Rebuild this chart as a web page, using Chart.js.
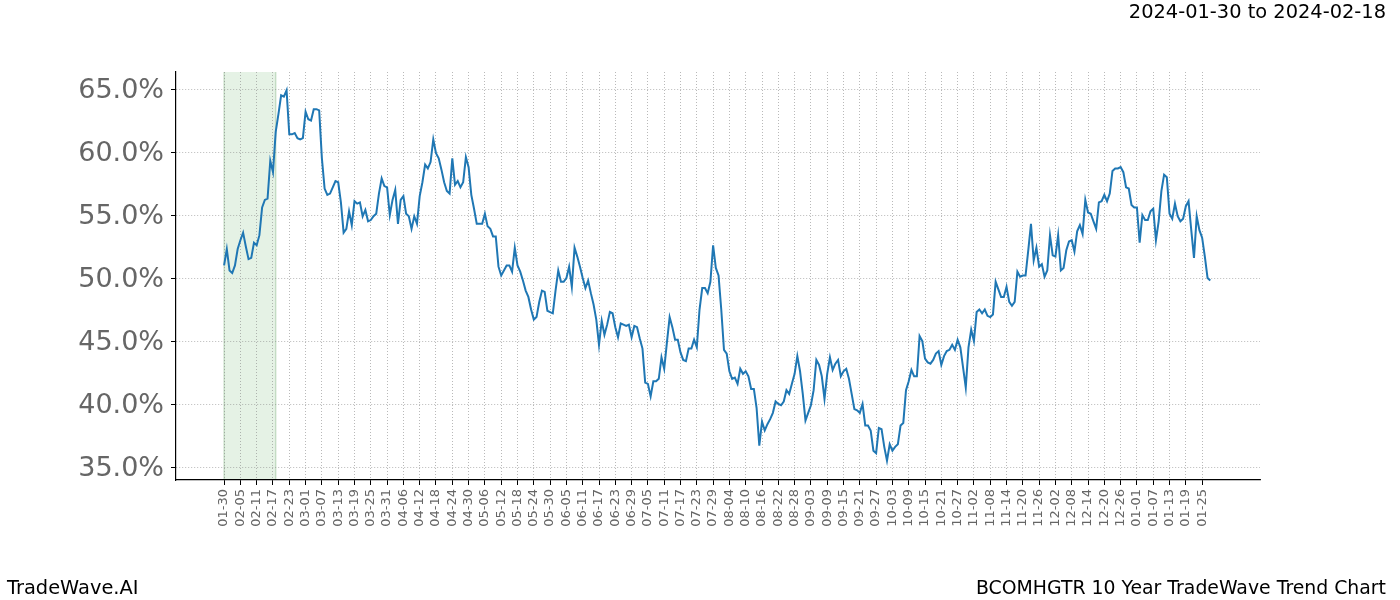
<!DOCTYPE html>
<html>
<head>
<meta charset="utf-8">
<script src="https://cdn.jsdelivr.net/npm/chart.js@4.4.1/dist/chart.umd.min.js"></script>
<style>
  html, body { margin: 0; padding: 0; background: #ffffff; }
  #wrap { position: relative; width: 1400px; height: 600px; }
  canvas { position: absolute; left: 0; top: 0; }
  .txt { position: absolute; font-family: "DejaVu Sans", sans-serif; font-size: 19.4px; color: #000; line-height: 24px; white-space: nowrap; }
</style>
</head>
<body>
<div id="wrap">
  <canvas id="c" width="1400" height="600"></canvas>
  <div class="txt" id="rangeTitle" style="top:0px; right:14px;"></div>
  <div class="txt" id="brand" style="top:576px; left:7px;"></div>
  <div class="txt" id="chartName" style="top:576px; right:14px; font-size:18.85px;"></div>
</div>
<script>
// ---- Data ----
const rangeText = "2024-01-30 to 2024-02-18";
const brandText = "TradeWave.AI";
const chartTitle = "BCOMHGTR 10 Year TradeWave Trend Chart";

// Day offsets of the highlighted window (01-30 .. 02-18)
const highlightStartDay = 0;
const highlightEndDay = 19;

// Tick labels, one every 6 days starting at day 0 (01-30)
const tickLabels = ["01-30","02-05","02-11","02-17","02-23","03-01","03-07","03-13","03-19","03-25",
  "03-31","04-06","04-12","04-18","04-24","04-30","05-06","05-12","05-18","05-24",
  "05-30","06-05","06-11","06-17","06-23","06-29","07-05","07-11","07-17","07-23",
  "07-29","08-04","08-10","08-16","08-22","08-28","09-03","09-09","09-15","09-21",
  "09-27","10-03","10-09","10-15","10-21","10-27","11-02","11-08","11-14","11-20",
  "11-26","12-02","12-08","12-14","12-20","12-26","01-01","01-07","01-13","01-19",
  "01-25"];
const tickStepDays = 6;

// Y tick values (percent)
const yTicks = [35, 40, 45, 50, 55, 60, 65];

// Daily trend values (percent), day 0 = 01-30
const trendValues = [
  51.0,52.3,50.6,50.4,51.0,52.3,53.0,53.6,52.5,51.5,
  51.6,52.8,52.6,53.4,55.6,56.2,56.3,59.3,58.4,61.6,
  63.0,64.5,64.4,64.9,61.4,61.4,61.5,61.1,61.0,61.1,
  63.2,62.6,62.5,63.4,63.4,63.3,59.5,57.1,56.6,56.7,
  57.2,57.7,57.6,56.0,53.6,53.9,55.3,54.2,56.1,55.9,
  56.0,54.9,55.4,54.5,54.6,54.9,55.1,56.7,57.9,57.3,
  57.2,55.0,56.2,57.0,54.3,56.2,56.5,55.1,54.9,53.9,
  54.9,54.3,56.5,57.6,59.0,58.7,59.2,61.0,59.9,59.5,
  58.6,57.6,56.9,56.7,59.5,57.4,57.7,57.2,57.6,59.6,
  58.8,56.6,55.5,54.3,54.3,54.3,55.1,54.1,53.9,53.3,
  53.3,50.9,50.2,50.6,51.0,51.0,50.5,52.4,51.0,50.5,
  49.8,49.0,48.5,47.5,46.7,46.9,48.1,49.0,48.9,47.4,
  47.3,47.2,49.0,50.6,49.7,49.7,50.0,50.9,49.3,52.4,
  51.7,50.9,50.0,49.2,49.8,48.8,47.9,46.7,44.7,46.6,
  45.5,46.3,47.3,47.2,46.1,45.3,46.4,46.3,46.2,46.3,
  45.3,46.2,46.1,45.2,44.4,41.7,41.6,40.6,41.8,41.8,
  42.0,43.7,42.8,44.9,46.9,46.1,45.1,45.1,44.1,43.5,
  43.4,44.4,44.4,45.1,44.5,47.5,49.2,49.2,48.8,49.7,
  52.6,50.8,50.2,47.5,44.3,44.0,42.6,42.0,42.1,41.6,
  42.8,42.4,42.6,42.2,41.2,41.2,39.7,36.7,38.6,37.9,
  38.4,38.8,39.3,40.2,40.0,39.9,40.2,41.1,40.8,41.6,
  42.4,43.8,42.6,40.8,38.7,39.3,39.9,41.1,43.5,43.1,
  42.2,40.4,42.4,43.7,42.7,43.2,43.5,42.2,42.6,42.8,
  42.0,40.8,39.6,39.5,39.3,40.0,38.3,38.3,37.9,36.3,
  36.1,38.1,38.0,36.6,35.5,36.8,36.3,36.6,36.8,38.3,
  38.5,41.1,41.8,42.7,42.2,42.2,45.4,45.0,43.6,43.3,
  43.2,43.5,44.0,44.2,43.1,43.8,44.2,44.3,44.7,44.3,
  45.1,44.5,42.9,41.3,44.5,45.9,45.0,47.3,47.5,47.2,
  47.5,47.0,46.9,47.1,49.7,49.1,48.5,48.5,49.3,48.1,
  47.8,48.1,50.5,50.1,50.2,50.2,52.2,54.3,51.4,52.4,
  50.9,51.1,50.1,50.6,53.4,51.8,51.7,53.4,50.6,50.8,
  52.2,52.9,53.0,52.1,53.7,54.2,53.5,56.2,55.2,55.1,
  54.5,53.9,56.0,56.1,56.6,56.1,56.7,58.5,58.7,58.7,
  58.8,58.4,57.2,57.1,55.8,55.6,55.6,52.8,55.0,54.6,
  54.6,55.3,55.5,53.0,54.5,56.9,58.2,58.0,55.1,54.7,
  55.9,54.9,54.5,54.7,55.7,56.1,53.8,51.6,54.9,53.8,
  53.2,51.7,50.0,49.8
];

// ---- Build ----
document.getElementById('rangeTitle').textContent = rangeText;
document.getElementById('brand').textContent = brandText;
document.getElementById('chartName').textContent = chartTitle;

const points = trendValues.map((v, i) => ({ x: i, y: v }));

const shadePlugin = {
  id: 'shade',
  beforeDraw(chart) {
    const { ctx, chartArea, scales } = chart;
    const x0 = scales.x.getPixelForValue(highlightStartDay);
    const x1 = scales.x.getPixelForValue(highlightEndDay);
    ctx.save();
    ctx.fillStyle = 'rgba(0,128,0,0.1)';
    ctx.fillRect(x0, chartArea.top, x1 - x0, chartArea.bottom - chartArea.top);
    ctx.strokeStyle = 'rgba(0,100,0,0.18)';
    ctx.lineWidth = 1.5;
    ctx.beginPath();
    ctx.moveTo(x0, chartArea.top); ctx.lineTo(x0, chartArea.bottom);
    ctx.moveTo(x1, chartArea.top); ctx.lineTo(x1, chartArea.bottom);
    ctx.stroke();
    ctx.restore();
  }
};

const gridColor = 'rgba(130,130,130,0.7)';

new Chart(document.getElementById('c'), {
  type: 'line',
  data: {
    datasets: [{
      data: points,
      borderColor: '#1f77b4',
      borderWidth: 2,
      pointRadius: 0,
      tension: 0,
      fill: false
    }]
  },
  options: {
    responsive: false,
    animation: false,
    layout: { padding: { left: 0, right: 140, top: 72, bottom: 0 } },
    plugins: { legend: { display: false }, tooltip: { enabled: false }, title: { display: false } },
    scales: {
      x: {
        type: 'linear',
        min: -17.7,
        max: 381.3,
        afterBuildTicks: (scale) => { scale.ticks = tickLabels.map((_, i) => ({ value: i * tickStepDays })); },
        afterFit: (scale) => { scale.height = 120; },
        ticks: {
          autoSkip: false,
          minRotation: 90,
          maxRotation: 90,
          padding: 4,
          color: '#666666',
          font: { family: 'DejaVu Sans', size: 13 },
          callback: (value) => tickLabels[Math.round(value / tickStepDays)]
        },
        grid: {
          color: gridColor,
          lineWidth: 0.8,
          drawTicks: true,
          tickLength: 5,
          tickColor: '#000000',
          tickWidth: 1,
          tickBorderDash: []
        },
        border: { display: true, color: '#000000', width: 1.2, dash: [1, 2] }
      },
      y: {
        type: 'linear',
        min: 33.97,
        max: 66.35,
        afterBuildTicks: (scale) => { scale.ticks = yTicks.map(v => ({ value: v })); },
        afterFit: (scale) => { scale.width = 176; },
        ticks: {
          padding: 7,
          labelOffset: 2,
          color: '#666666',
          font: { family: 'DejaVu Sans', size: 27 },
          callback: (value) => value.toFixed(1) + '%'
        },
        grid: {
          color: gridColor,
          lineWidth: 0.8,
          drawTicks: true,
          tickLength: 5,
          tickColor: '#000000',
          tickWidth: 1,
          tickBorderDash: []
        },
        border: { display: true, color: '#000000', width: 1.2, dash: [1, 2] }
      }
    }
  },
  plugins: [shadePlugin]
});
</script>
</body>
</html>
